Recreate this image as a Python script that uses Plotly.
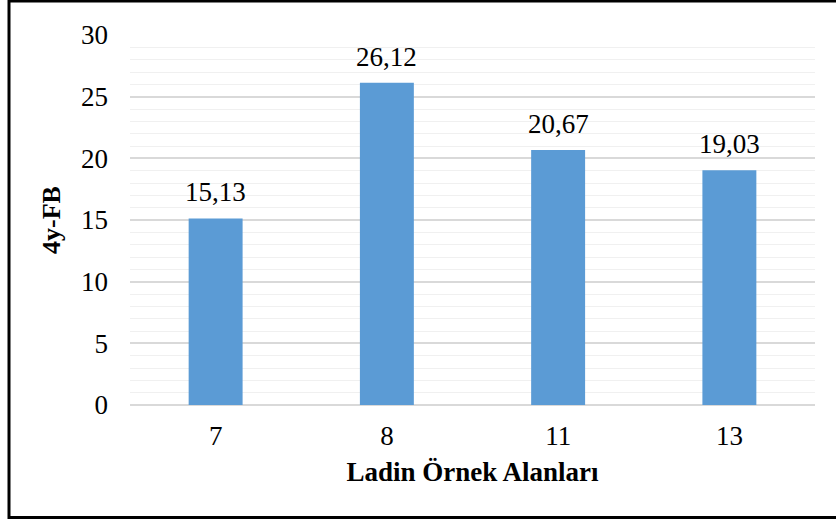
import plotly.graph_objects as go

# Spruce sample plots and their 4y-FB values
plots = ["7", "8", "11", "13"]
values = [15.13, 26.12, 20.67, 19.03]
y_ticks = [0, 5, 10, 15, 20, 25, 30]

W, H = 836, 519
L, R, T, B = 130, 21, 35, 114
pw, ph = W - L - R, H - T - B

fig = go.Figure(
    go.Bar(
        x=plots,
        y=values,
        marker=dict(color="#5B9BD5", line=dict(width=0)),
        hoverinfo="skip",
    )
)

# Value labels above the bars, decimal comma (category index as x)
for i, v in enumerate(values):
    fig.add_annotation(
        x=i,
        y=v,
        xref="x",
        yref="y",
        text=f"{v:.2f}".replace(".", ","),
        showarrow=False,
        yanchor="bottom",
        yshift=9,
        font=dict(family="Liberation Serif", size=27, color="#000000"),
    )

fig.update_layout(
    width=W,
    height=H,
    margin=dict(l=L, r=R, t=T, b=B),
    paper_bgcolor="white",
    plot_bgcolor="white",
    bargap=0.685,
    showlegend=False,
    font=dict(family="Liberation Serif", color="#000000"),
    xaxis=dict(
        type="category",
        range=[-0.5, len(plots) - 0.5],
        showgrid=False,
        showline=False,
        ticks="",
        tickfont=dict(size=27),
        ticklabelstandoff=12,
        title=dict(
            text="<b>Ladin Örnek Alanları</b>",
            font=dict(size=27),
            standoff=12,
        ),
    ),
    yaxis=dict(
        range=[0, 30],
        tickvals=y_ticks,
        showgrid=True,
        gridcolor="#D9D9D9",
        gridwidth=1.5,
        zeroline=True,
        zerolinecolor="#D9D9D9",
        zerolinewidth=2,
        showline=False,
        ticks="",
        tickfont=dict(size=27),
        ticklabelstandoff=21,
        minor=dict(dtick=1, showgrid=True, gridcolor="#F0F0F0", gridwidth=1),
        title=dict(
            text="<b>4y-FB</b>",
            font=dict(size=26),
            standoff=12,
        ),
    ),
)

# Frame around the whole chart
fig.add_shape(
    type="rect",
    xref="paper",
    yref="paper",
    x0=(9 - L) / pw,
    x1=(842 - L) / pw,
    y0=-(517.5 - (T + ph)) / ph,
    y1=1 + (T - 1) / ph,
    line=dict(color="#000000", width=3),
    fillcolor="rgba(0,0,0,0)",
    layer="above",
)

fig.write_html("out.html")
